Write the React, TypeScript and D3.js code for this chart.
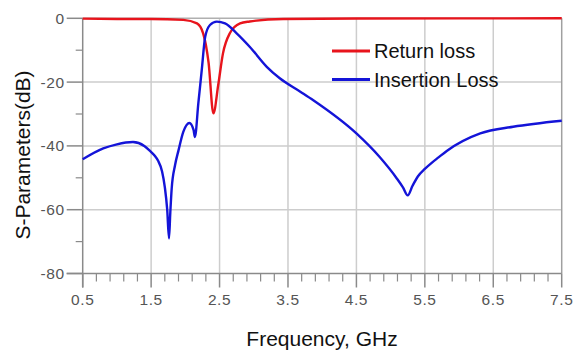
import * as d3 from "d3";

const W = 574;
const H = 352;

// Insertion loss (blue)
const ilFreq = [0.5, 0.8, 1.0, 1.235, 1.4, 1.48, 1.55, 1.6, 1.66, 1.7, 1.735, 1.761, 1.78, 1.8, 1.85, 1.9, 1.97, 2.06, 2.12, 2.14, 2.19, 2.24, 2.29, 2.36, 2.46, 2.58, 2.75, 2.94, 3.19, 3.38, 3.68, 3.87, 4.5, 4.84, 5.09, 5.18, 5.25, 5.32, 5.4, 5.5, 5.6, 5.7, 5.82, 6.31, 6.79, 7.5];
const ilDb = [-44.2, -40.8, -39.5, -38.8, -40, -41.5, -43, -44.6, -48, -52.9, -60, -69, -61, -53.5, -46, -41.4, -35.6, -32.8, -35, -37.2, -26.6, -16.2, -5.8, -2.1, -1.05, -1.6, -4.7, -8.9, -15.2, -18.8, -23, -25.7, -36.1, -43.5, -50.2, -53, -55.5, -52.5, -49.5, -47.2, -45.3, -43.6, -41.6, -36.1, -34, -32.1];

// Return loss (red)
const rlFreq = [0.5, 1.0, 1.5, 1.97, 2.17, 2.26, 2.34, 2.41, 2.48, 2.55, 2.65, 2.8, 2.94, 3.43, 4.5, 7.5];
const rlDb = [-0.1, -0.2, -0.2, -0.5, -1.6, -4.7, -14, -29.8, -21, -11, -4.7, -1.6, -1.0, -0.2, -0.05, 0];

const xTicks = [0.5, 1.5, 2.5, 3.5, 4.5, 5.5, 6.5, 7.5];
const yTicks = [0, -20, -40, -60, -80];

const legendNames = ["Return loss", "Insertion Loss"];
const colors = ["#e8141c", "#1414d8"];

const left = 82.7;
const right = 561.7;
const top = 18.3;
const bottom = 273.5;

export default function App() {
  const x = d3.scaleLinear().domain([0.5, 7.5]).range([left, right]);
  const y = d3.scaleLinear().domain([-80, 0]).range([bottom, top]);

  const line = d3
    .line<[number, number]>()
    .x((d) => x(d[0]))
    .y((d) => y(d[1]))
    .curve(d3.curveMonotoneX);

  const il = ilFreq.map((f, i) => [f, ilDb[i]] as [number, number]);
  const rl = rlFreq.map((f, i) => [f, rlDb[i]] as [number, number]);

  const xMinor = d3.range(0.5, 7.5001, 0.2).filter((v) => !xTicks.some((t) => Math.abs(t - v) < 1e-6));
  const yMinor = [-10, -30, -50, -70];

  const font = "'Liberation Sans', Arial, sans-serif";
  const axisColor = "#8a8a8a";
  const gridColor = "#cdcdcd";

  return (
    <div style={{ position: "absolute", left: 0, top: 0 }}>
      <svg width={W} height={H} style={{ display: "block", background: "#fff" }}>
        {/* grid */}
        {xTicks.slice(1, -1).map((t) => (
          <line key={"gx" + t} x1={x(t)} x2={x(t)} y1={top} y2={bottom} stroke={gridColor} strokeWidth={1.5} />
        ))}
        {yTicks.slice(1, -1).map((t) => (
          <line key={"gy" + t} x1={left} x2={right} y1={y(t)} y2={y(t)} stroke={gridColor} strokeWidth={1.5} />
        ))}
        <line x1={left} x2={right} y1={top} y2={top} stroke="#b0b0b0" strokeWidth={1.5} />
        <line x1={right} x2={right} y1={top} y2={bottom} stroke="#a0a0a0" strokeWidth={1.5} />

        {/* axes */}
        <line x1={left} x2={left} y1={top} y2={bottom + 14} stroke={axisColor} strokeWidth={1.5} />
        <line x1={left - 16} x2={right} y1={bottom} y2={bottom} stroke={axisColor} strokeWidth={1.5} />
        {xTicks.map((t) => (
          <g key={"xt" + t}>
            <line x1={x(t)} x2={x(t)} y1={bottom} y2={bottom + 14} stroke={axisColor} strokeWidth={1.5} />
            <text x={x(t)} y={305} textAnchor="middle" fontFamily={font} fontSize={15.5} fill="#555" letterSpacing={0.6}>
              {t.toFixed(1)}
            </text>
          </g>
        ))}
        {xMinor.map((t) => (
          <line key={"xm" + t} x1={x(t)} x2={x(t)} y1={bottom} y2={bottom + 8} stroke={axisColor} strokeWidth={1.2} />
        ))}
        {yTicks.map((t) => (
          <g key={"yt" + t}>
            <line x1={left - 16} x2={left} y1={y(t)} y2={y(t)} stroke={axisColor} strokeWidth={1.5} />
            <text x={left - 18} y={y(t)} dy="0.35em" textAnchor="end" fontFamily={font} fontSize={15.5} fill="#555" letterSpacing={0.6}>
              {t}
            </text>
          </g>
        ))}
        {yMinor.map((t) => (
          <line key={"ym" + t} x1={left - 7} x2={left} y1={y(t)} y2={y(t)} stroke={axisColor} strokeWidth={1.2} />
        ))}

        {/* curves */}
        <path d={line(rl) || ""} fill="none" stroke={colors[0]} strokeWidth={2.4} />
        <path d={line(il) || ""} fill="none" stroke={colors[1]} strokeWidth={2.4} />

        {/* legend */}
        {legendNames.map((name, i) => (
          <g key={name} transform={`translate(332,${51 + i * 28.5})`}>
            <line x1={0} x2={38} y1={0} y2={0} stroke={colors[i]} strokeWidth={3} />
            <text x={42} y={0} dy="0.35em" fontFamily={font} fontSize={20} fill="#111">
              {name}
            </text>
          </g>
        ))}

        {/* axis titles */}
        <text x={322} y={346} textAnchor="middle" fontFamily={font} fontSize={21} fill="#111">
          Frequency, GHz
        </text>
        <text
          transform={`translate(30,155) rotate(-90)`}
          textAnchor="middle"
          fontFamily={font}
          fontSize={21}
          fill="#111"
        >
          S-Parameters(dB)
        </text>
      </svg>
    </div>
  );
}
